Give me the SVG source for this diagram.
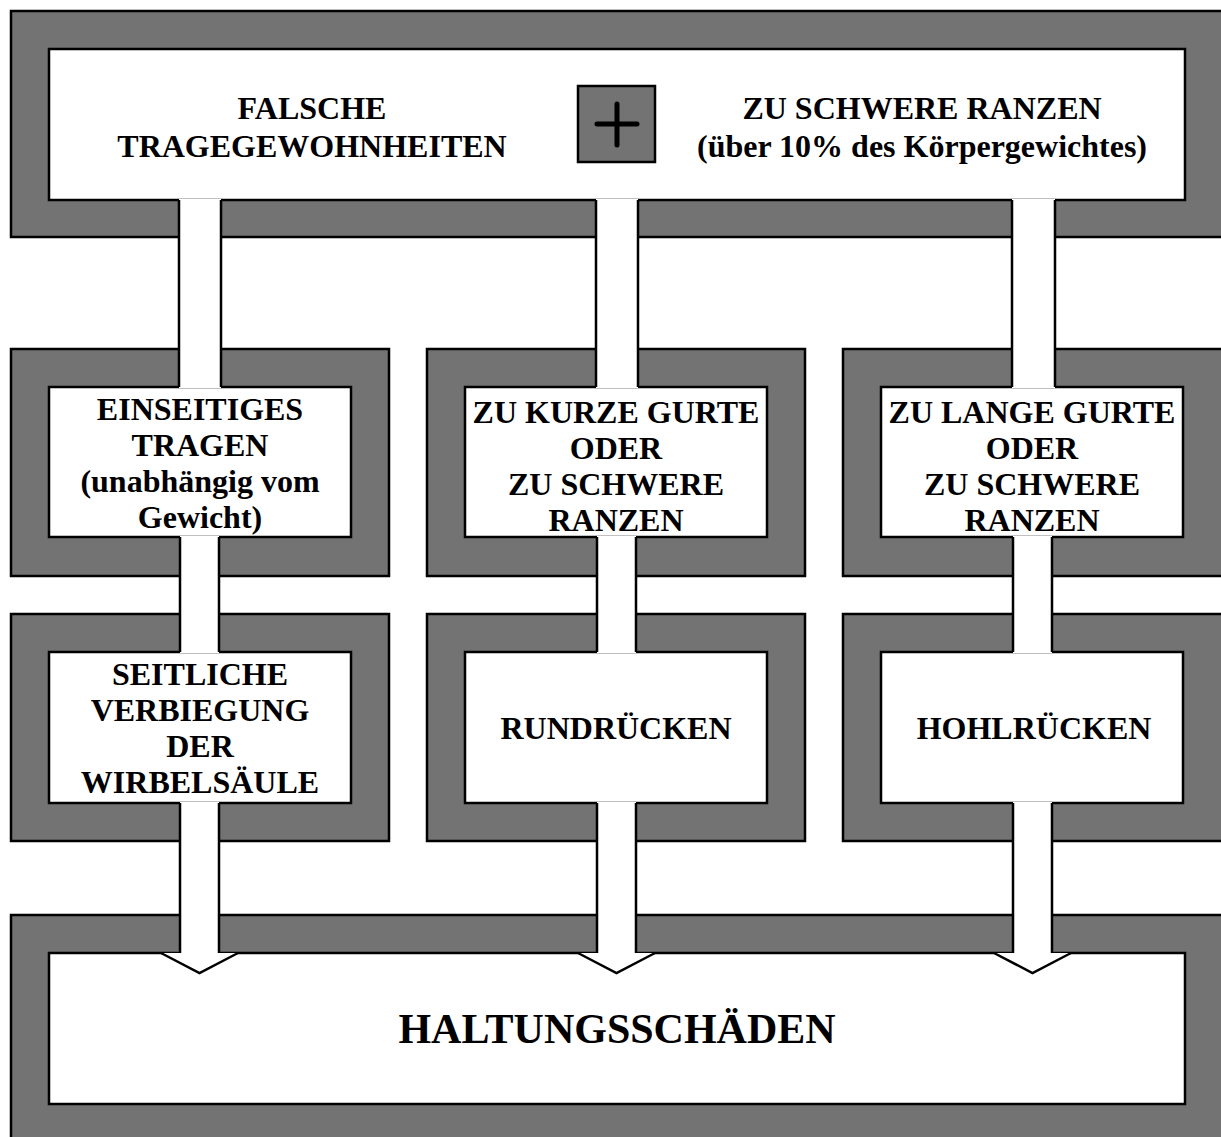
<svg xmlns="http://www.w3.org/2000/svg" width="1221" height="1137" viewBox="0 0 1221 1137">
<style>
.outer{fill:#737373;stroke:#000;stroke-width:2.5}
.inner{fill:#fff;stroke:#000;stroke-width:2.5}
.t{font-family:"Liberation Serif","Times New Roman",serif;font-weight:bold;font-size:32px;fill:#000;text-anchor:middle}
.big{font-size:42px}
.shaft{fill:#fff;stroke:none}
.edge{stroke:#000;stroke-width:2.5;fill:none}
.head{fill:#fff;stroke:none}
</style>
<rect width="1221" height="1137" fill="#fff"/>
<g id="node-top">
<rect class="outer" x="11" y="11" width="1212" height="226"/>
<rect class="inner" x="49" y="49" width="1136" height="151"/>
<text class="t" x="312" y="119">FALSCHE</text>
<text class="t" x="312" y="157">TRAGEGEWOHNHEITEN</text>
<rect x="578" y="86" width="77" height="76" fill="#737373" stroke="#000" stroke-width="2.5"/>
<path d="M597 124H637M617 104V145" stroke="#000" stroke-width="5" stroke-linecap="round" fill="none"/>
<text class="t" x="922" y="119">ZU SCHWERE RANZEN</text>
<text class="t" x="922" y="157">(über 10% des Körpergewichtes)</text>
</g>
<g id="node-einseitig">
<rect class="outer" x="11" y="349" width="378" height="227"/>
<rect class="inner" x="49" y="387" width="302" height="150"/>
<text class="t" x="200" y="420">EINSEITIGES</text>
<text class="t" x="200" y="456">TRAGEN</text>
<text class="t" x="200" y="492">(unabhängig vom</text>
<text class="t" x="200" y="528">Gewicht)</text>
</g>
<g id="node-kurz">
<rect class="outer" x="427" y="349" width="378" height="227"/>
<rect class="inner" x="465" y="387" width="302" height="150"/>
<text class="t" x="616" y="423">ZU KURZE GURTE</text>
<text class="t" x="616" y="459">ODER</text>
<text class="t" x="616" y="495">ZU SCHWERE</text>
<text class="t" x="616" y="531">RANZEN</text>
</g>
<g id="node-lang">
<rect class="outer" x="843" y="349" width="380" height="227"/>
<rect class="inner" x="881" y="387" width="302" height="150"/>
<text class="t" x="1032" y="423">ZU LANGE GURTE</text>
<text class="t" x="1032" y="459">ODER</text>
<text class="t" x="1032" y="495">ZU SCHWERE</text>
<text class="t" x="1032" y="531">RANZEN</text>
</g>
<g id="node-seitlich">
<rect class="outer" x="11" y="614" width="378" height="227"/>
<rect class="inner" x="49" y="652" width="302" height="151"/>
<text class="t" x="200" y="685">SEITLICHE</text>
<text class="t" x="200" y="721">VERBIEGUNG</text>
<text class="t" x="200" y="757">DER</text>
<text class="t" x="200" y="793">WIRBELSÄULE</text>
</g>
<g id="node-rund">
<rect class="outer" x="427" y="614" width="378" height="227"/>
<rect class="inner" x="465" y="652" width="302" height="151"/>
<text class="t" x="616" y="739">RUNDRÜCKEN</text>
</g>
<g id="node-hohl">
<rect class="outer" x="843" y="614" width="380" height="227"/>
<rect class="inner" x="881" y="652" width="302" height="151"/>
<text class="t" x="1034" y="739">HOHLRÜCKEN</text>
</g>
<g id="node-haltung">
<rect class="outer" x="11" y="915" width="1212" height="230"/>
<rect class="inner" x="49" y="953" width="1136" height="151"/>
<text class="t big" x="617" y="1043">HALTUNGSSCHÄDEN</text>
</g>
<g id="connectors">
<!-- column 1 -->
<rect class="shaft" x="179" y="199" width="42" height="189"/>
<path class="edge" d="M179 200V387M221 200V387"/>
<rect class="shaft" x="180" y="536" width="39" height="117"/>
<path class="edge" d="M180 537V652M219 537V652"/>
<rect class="shaft" x="180" y="802" width="39" height="153"/>
<path class="edge" d="M180 803V953M219 953V803"/>
<polygon class="head" points="161,953 199.5,973 238,953"/>
<path class="edge" d="M161 953L199.5 973L238 953"/>
<!-- column 2 -->
<rect class="shaft" x="596" y="199" width="42" height="189"/>
<path class="edge" d="M596 200V387M638 200V387"/>
<rect class="shaft" x="597" y="536" width="39" height="117"/>
<path class="edge" d="M597 537V652M636 537V652"/>
<rect class="shaft" x="597" y="802" width="39" height="153"/>
<path class="edge" d="M597 803V953M636 953V803"/>
<polygon class="head" points="578,953 616.5,973 655,953"/>
<path class="edge" d="M578 953L616.5 973L655 953"/>
<!-- column 3 -->
<rect class="shaft" x="1012" y="199" width="43" height="189"/>
<path class="edge" d="M1012 200V387M1055 200V387"/>
<rect class="shaft" x="1013" y="536" width="39" height="117"/>
<path class="edge" d="M1013 537V652M1052 537V652"/>
<rect class="shaft" x="1013" y="802" width="39" height="153"/>
<path class="edge" d="M1013 803V953M1052 953V803"/>
<polygon class="head" points="994,953 1032.5,973 1071,953"/>
<path class="edge" d="M994 953L1032.5 973L1071 953"/>
</g>
</svg>
